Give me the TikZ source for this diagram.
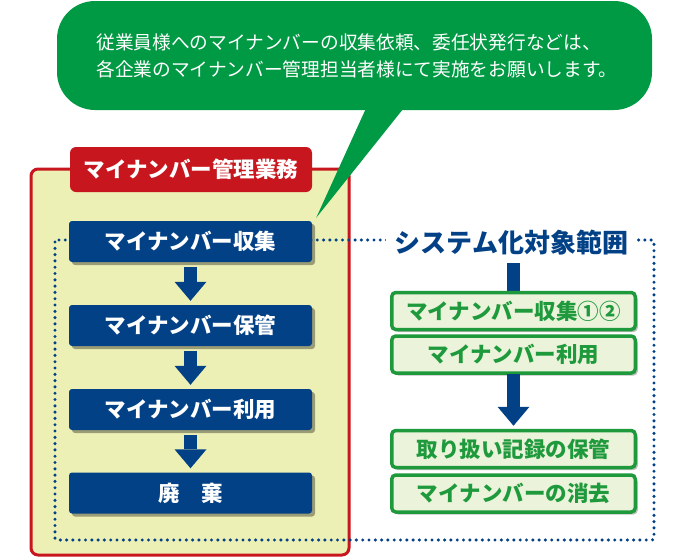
\documentclass[tikz,border=0pt]{standalone}
\usepackage{fontspec}
\newfontfamily\cjk{Noto Sans CJK JP}
\usetikzlibrary{calc,shadows,arrows.meta,backgrounds}

\definecolor{vertbulle}{RGB}{0,153,68}
\definecolor{rouge}{RGB}{200,22,30}
\definecolor{bleu}{RGB}{3,65,135}
\definecolor{jaune}{RGB}{237,240,180}
\definecolor{vert}{RGB}{30,154,60}
\definecolor{vertclair}{RGB}{235,243,218}

\begin{document}
\begin{tikzpicture}[x=1pt,y=-1pt,
  bulle/.style={fill=vertbulle, rounded corners=38pt, minimum width=595pt, minimum height=109pt,
    text=white, align=left, font={\cjk\fontsize{18.7pt}{27pt}\selectfont}},
  cadre/.style={draw=rouge, line width=3pt, fill=jaune, rounded corners=7pt,
    minimum width=318pt, minimum height=386pt},
  etiquette/.style={fill=rouge, text=white, rounded corners=6pt, minimum width=242pt,
    minimum height=45pt, inner sep=0pt, font={\cjk\bfseries\fontsize{21.5pt}{21.5pt}\selectfont}},
  bleubox/.style={fill=bleu, text=white, rounded corners=3pt, minimum width=243pt,
    minimum height=41pt, inner sep=0pt, font={\cjk\bfseries\fontsize{21.5pt}{21.5pt}\selectfont},
    drop shadow={shadow xshift=3pt, shadow yshift=-3pt, opacity=.35, fill=black}},
  vertbox/.style={draw=vert, line width=3.5pt, fill=vertclair, text=vert, rounded corners=4pt,
    minimum width=243.5pt, minimum height=37pt, inner sep=0pt,
    font={\cjk\bfseries\fontsize{21.5pt}{21.5pt}\selectfont},
    drop shadow={shadow xshift=2.5pt, shadow yshift=-2.5pt, opacity=.25, fill=black}},
  pointilles/.style={draw=bleu, line width=3.4pt, line cap=round, dash pattern=on 0pt off 6.3pt,
    rounded corners=2pt},
  fleche/.style={draw=bleu, line width=13pt, -{Triangle[width=32pt,length=19pt,line width=0pt]}},
  barre/.style={draw=bleu, line width=13pt}
]
\useasboundingbox (0,0) rectangle (686,557);

% Cadre jaune
\node[cadre] (cadre) at (190,362) {};

% Pointilles
\draw[pointilles] (55,240) rectangle (654,540);

% Etapes a gauche (en bleu)
\foreach \k/\txt/\y in {1/マイナンバー収集/241.5, 2/マイナンバー保管/325.5,
    3/マイナンバー利用/409.5, 4/廃　棄/493}
  \node[bleubox] (b\k) at (190.5,\y) {\txt};

\foreach \k/\j in {1/2, 2/3, 3/4}
  \draw[fleche] ($(b\k.south)+(0,5)$) -- ($(b\j.north)+(0,-4)$);

% Etiquette
\node[etiquette] (titre) at (191,169.5) {マイナンバー管理業務};

% Bulle et pointe
\node[bulle] (bulle) at (354.5,55.5) {};
\node[text=white, align=left, font={\cjk\fontsize{18.7pt}{27pt}\selectfont}] (message)
  at (357,55.5) {従業員様へのマイナンバーの収集依頼、委任状発行などは、\\
  各企業のマイナンバー管理担当者様にて実施をお願いします。};
\coordinate (pointe) at ($(b1.north east)+(4,-3)$);
\fill[vertbulle] ($(bulle.south)+(12,-3)$) -- ($(bulle.south)+(50,-3)$) -- (pointe) -- cycle;

% Systeme (a droite, en vert)
\node[fill=white, text=bleu, inner xsep=9pt, inner ysep=7pt,
  font={\cjk\bfseries\fontsize{26pt}{26pt}\selectfont}] (sys) at (511.5,243) {システム化対象範囲};

\foreach \k/\txt/\y in {1/マイナンバー収集①②/311, 2/マイナンバー利用/354.5,
    3/取り扱い記録の保管/449, 4/マイナンバーの消去/493.5}
  \node[vertbox] (v\k) at (513.5,\y) {\txt};

\begin{scope}[on background layer]
  \draw[barre] (sys.south -| v1.north) -- ($(v1.north)+(0,1)$);
\end{scope}
\draw[fleche] ($(v2.south)+(0,-1)$) -- ($(v3.north)+(0,-3)$);

\end{tikzpicture}
\end{document}
